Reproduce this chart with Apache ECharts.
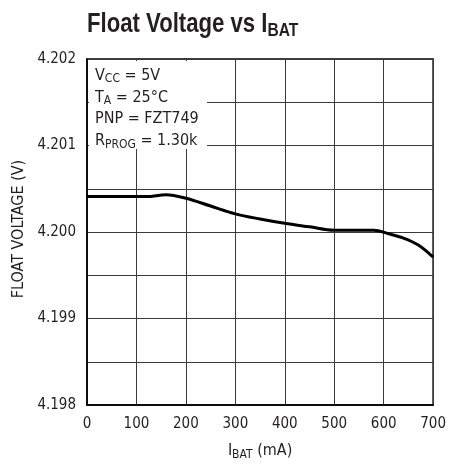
<!DOCTYPE html>
<html><head><meta charset="utf-8">
<script src="https://cdn.jsdelivr.net/npm/echarts@6/dist/echarts.min.js"></script>
<style>html,body{margin:0;padding:0;background:#fff}#c{width:449px;height:466px}</style>
</head><body><div id="c"></div>
<script>
const iBat = [0, 60, 120, 160, 200, 250, 300, 350, 400, 450, 500, 540, 580, 610, 640, 670, 700];
const floatV = [4.20041, 4.20041, 4.20041, 4.20043, 4.20039, 4.20030, 4.20021, 4.20015, 4.20010, 4.20006, 4.20002, 4.20002, 4.20002, 4.19998, 4.19993, 4.19985, 4.19971];
const xTicks = [0, 100, 200, 300, 400, 500, 600, 700];
const yTicks = ['4.198', '4.199', '4.200', '4.201', '4.202'];
const FONT = '"Liberation Sans Narrow","DejaVu Sans Condensed","Liberation Sans",sans-serif';
const TFONT = '"Liberation Sans","Arial",sans-serif';

const chart = echarts.init(document.getElementById('c'), null, {renderer: 'canvas'});
chart.setOption({
  animation: false,
  backgroundColor: '#fff',
  grid: { left: 87, right: 11, top: 59, bottom: 55, containLabel: false,
    show: true, borderColor: '#000', borderWidth: 1.5, backgroundColor: 'transparent' },
  xAxis: {
    type: 'value', min: 0, max: 700, interval: 100,
    name: 'I{s|BAT} (mA)', nameLocation: 'middle', nameGap: 36,
    nameTextStyle: { fontFamily: FONT, fontSize: 16, color: '#231f20',
      rich: { s: { fontFamily: FONT, fontSize: 12, color: '#231f20', padding: [8, 0, 0, 0] } } },
    axisLine: { show: true, onZero: false, lineStyle: { color: '#000', width: 1.5 } },
    axisTick: { show: false },
    axisLabel: { fontFamily: FONT, fontSize: 15, color: '#231f20', margin: 12,
      formatter: v => xTicks.indexOf(v) >= 0 ? String(v) : '' },
    splitLine: { show: true, lineStyle: { color: '#3a3a3a', width: 1 } }
  },
  yAxis: {
    type: 'value', min: 4.198, max: 4.202, interval: 0.0005,
    axisLine: { show: true, onZero: false, lineStyle: { color: '#000', width: 1.5 } },
    axisTick: { show: false },
    axisLabel: { fontFamily: FONT, fontSize: 15, color: '#231f20', margin: 11,
      formatter: v => { const s = v.toFixed(3); return (Math.round(v * 10000) % 10 === 0 && yTicks.indexOf(s) >= 0) ? s : ''; } },
    splitLine: { show: true, lineStyle: { color: '#3a3a3a', width: 1 } }
  },
  series: [{
    type: 'line',
    data: iBat.map((x, i) => [x, floatV[i]]),
    smooth: 0.35,
    showSymbol: false,
    lineStyle: { color: '#000', width: 3 },
    z: 3
  }],
  graphic: [
    { type: 'text', x: 87, y: 9, scaleX: 0.82, scaleY: 1, originX: 0, originY: 0, z: 101,
      style: {
        text: 'Float Voltage vs I{s|BAT}',
        font: 'bold 27px ' + TFONT, fill: '#231f20',
        rich: { s: { font: 'bold 19px ' + TFONT, fill: '#231f20', padding: [12, 0, 0, 0] } }
      } },
    { type: 'text', x: 19, y: 229, rotation: Math.PI / 2, z: 101,
      style: { text: 'FLOAT VOLTAGE (V)', font: '16px ' + FONT, fill: '#231f20',
        align: 'center', verticalAlign: 'middle' } },
    { type: 'rect', left: 89, top: 61, shape: { width: 118, height: 88 }, style: { fill: '#fff' }, z: 100 },
    { type: 'text', left: 95, top: 65, z: 101,
      style: {
        text: 'V{s|CC} = 5V\nT{s|A} = 25°C\nPNP = FZT749\nR{s|PROG} = 1.30k',
        font: '16px ' + FONT, fill: '#231f20', lineHeight: 21.7,
        rich: { s: { font: '12px ' + FONT, fill: '#231f20', padding: [7, 0, 0, 0] } }
      } }
  ]
});
</script></body></html>
